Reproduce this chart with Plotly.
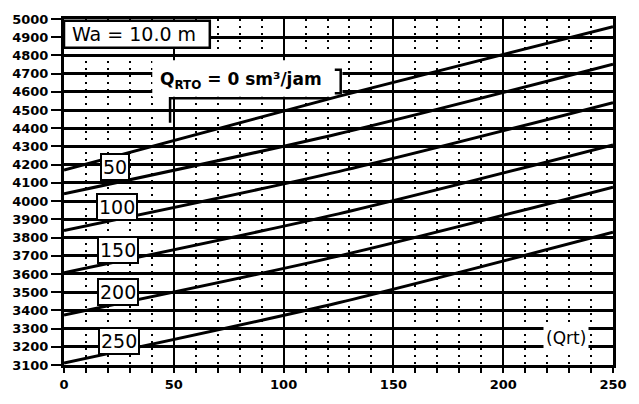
import plotly.graph_objects as go

# Flow-rate levels Q_RTO (sm³/jam) for each curve, top to bottom
q_levels = [0, 50, 100, 150, 200, 250]

# Horizontal positions (Qrt) where each curve was sampled
x_pts = [0, 125, 250]

# Curve values (m) at x_pts for each Q_RTO level
curve_q0 = [4171, 4575, 4958]
curve_q50 = [4040, 4370, 4752]
curve_q100 = [3839, 4162, 4541]
curve_q150 = [3607, 3930, 4309]
curve_q200 = [3375, 3698, 4077]
curve_q250 = [3111, 3442, 3829]
curves = [curve_q0, curve_q50, curve_q100, curve_q150, curve_q200, curve_q250]

# Axis ticks
x_ticks = [0, 50, 100, 150, 200, 250]
y_ticks = list(range(3100, 5001, 100))

# Boxed level labels: (text, x, y)
level_labels = [("50", 23.2, 4187), ("100", 24.1, 3966), ("150", 24.4, 3733),
                ("200", 24.8, 3501), ("250", 25.0, 3232)]

fig = go.Figure()

for q, vals in zip(q_levels, curves):
    fig.add_trace(go.Scatter(
        x=x_pts, y=vals, mode="lines", name=f"Q={q}",
        line=dict(color="black", width=3, shape="spline", smoothing=0.8),
        showlegend=False, hoverinfo="skip",
    ))

# Title box "Wa = 10.0 m"
fig.add_shape(type="rect", x0=0, x1=66.4, y0=4842, y1=4990,
              fillcolor="white", line=dict(color="black", width=2.5), layer="between")
fig.add_annotation(x=32, y=4916, text="Wa = 10.0 m", showarrow=False,
                   font=dict(family="DejaVu Sans", size=19, color="black"))

# Q_RTO label with white backing, closing bracket and leader
fig.add_shape(type="rect", x0=40.2, x1=126.8, y0=4573, y1=4773,
              fillcolor="white", line=dict(width=0), layer="between")
fig.add_annotation(x=80.5, y=4662, text="<b>Q<sub>RTO</sub> = 0 sm³/jam</b>", showarrow=False,
                   font=dict(family="DejaVu Sans", size=17, color="black"))
fig.add_shape(type="path", path="M 123.3,4722 L 126,4722 L 126,4592 L 123.3,4592",
              line=dict(color="black", width=2.5), layer="above")
fig.add_shape(type="path", path="M 48.3,4430 L 48.3,4565 L 121,4565",
              line=dict(color="black", width=2.5), layer="above")

# Level labels
for txt, lx, ly in level_labels:
    fig.add_annotation(x=lx, y=ly, text=txt, showarrow=False,
                       font=dict(family="DejaVu Sans", size=19, color="black"),
                       bgcolor="white", bordercolor="black", borderwidth=2, borderpad=1)

# Axis unit label
fig.add_annotation(x=228.4, y=3250, text="(Qrt)", showarrow=False,
                   font=dict(family="DejaVu Sans", size=17, color="black"),
                   bgcolor="white", borderpad=2)

fig.update_layout(
    width=639, height=404,
    margin=dict(l=61, r=24, t=15, b=29),
    paper_bgcolor="white", plot_bgcolor="white",
    showlegend=False,
    xaxis=dict(
        range=[0, 250], tickvals=x_ticks, ticktext=[str(v) for v in x_ticks],
        showgrid=True, gridcolor="black", gridwidth=2,
        ticks="outside", ticklen=5, tickwidth=2, tickcolor="black",
        showline=True, linewidth=3, linecolor="black", mirror=True, zeroline=False,
        tickfont=dict(family="DejaVu Sans", size=13, color="black", weight="bold"),
        minor=dict(dtick=10, showgrid=True, gridcolor="black", gridwidth=2,
                   griddash="2px,5px", ticks="outside", ticklen=5, tickwidth=2,
                   tickcolor="black"),
    ),
    yaxis=dict(
        range=[3100, 5000], tickvals=y_ticks, ticktext=[str(v) for v in y_ticks],
        showgrid=True, gridcolor="black", gridwidth=2.5,
        ticks="outside", ticklen=10, tickwidth=2, tickcolor="black",
        showline=True, linewidth=3, linecolor="black", mirror=True, zeroline=False,
        tickfont=dict(family="DejaVu Sans", size=13, color="black", weight="bold"),
    ),
)

fig.write_html("out.html")
